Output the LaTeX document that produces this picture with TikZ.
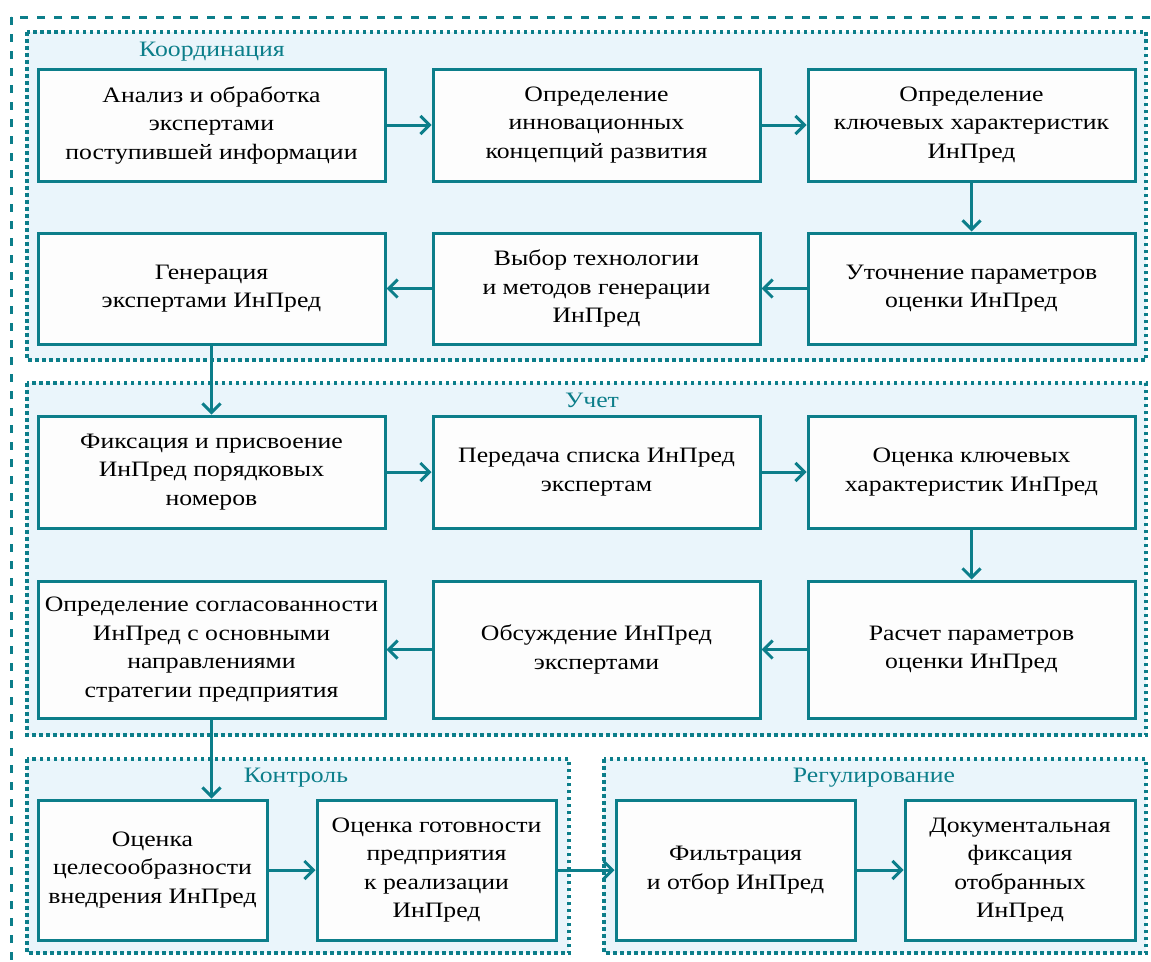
\documentclass[tikz,border=0pt]{standalone}
\usepackage{fontspec}
\setmainfont[FakeStretch=1.17]{Liberation Serif}
\usetikzlibrary{arrows.meta}
\definecolor{teal}{RGB}{12,126,138}
\definecolor{lightfill}{RGB}{234,245,251}
\definecolor{boxfill}{RGB}{253,253,253}
\begin{document}
\begin{tikzpicture}[x=1pt,y=-1pt,
  grp/.style={draw=teal,fill=lightfill,line width=3.5pt,dash pattern=on 3.5pt off 3.5pt},
  grptitle/.style={text=teal,font=\fontsize{22}{26}\selectfont,inner sep=0pt},
  stepbox/.style={draw=teal,fill=boxfill,line width=3pt,align=center,inner sep=2pt,
    font=\fontsize{22}{28.5}\selectfont},
  conn/.style={draw=teal,line width=3pt,-{Straight Barb[length=9pt,width=18pt,line width=3pt]}}
]
\clip (0,0) rectangle (1151,961);
\fill[white] (0,0) rectangle (1151,961);
% outer dashed frame
\draw[teal,line width=3pt,dash pattern=on 8pt off 9pt] (11,17) rectangle (1180,990);
% groups
\draw[grp] (27,32) rectangle (1146,360);
\draw[grp] (27,383) rectangle (1146,735);
\draw[grp] (27,759) rectangle (569,953);
\draw[grp] (604,759) rectangle (1146,953);
\node[grptitle] (t1) at (212,52) {Координация};
\node[grptitle] (t2) at (592,400) {Учет};
\node[grptitle] (t3) at (296,778) {Контроль};
\node[grptitle] (t4) at (874,778) {Регулирование};
% row 1
\node[stepbox,minimum width=347pt,minimum height=112pt] (a1) at (211.5,125) {Анализ и обработка\\экспертами\\поступившей информации};
\node[stepbox,minimum width=327pt,minimum height=112pt] (b1) at (596.5,125) {Определение\\инновационных\\концепций развития};
\node[stepbox,minimum width=327pt,minimum height=112pt] (c1) at (971.5,125) {Определение\\ключевых характеристик\\ИнПред};
% row 2
\node[stepbox,minimum width=347pt,minimum height=111pt] (a2) at (211.5,288.5) {Генерация\\экспертами ИнПред};
\node[stepbox,minimum width=327pt,minimum height=111pt] (b2) at (596.5,288.5) {Выбор технологии\\и методов генерации\\ИнПред};
\node[stepbox,minimum width=327pt,minimum height=111pt] (c2) at (971.5,288.5) {Уточнение параметров\\оценки ИнПред};
% row 3
\node[stepbox,minimum width=347pt,minimum height=112pt] (a3) at (211.5,472) {Фиксация и присвоение\\ИнПред порядковых\\номеров};
\node[stepbox,minimum width=327pt,minimum height=112pt] (b3) at (596.5,472) {Передача списка ИнПред\\экспертам};
\node[stepbox,minimum width=327pt,minimum height=112pt] (c3) at (971.5,472) {Оценка ключевых\\характеристик ИнПред};
% row 4
\node[stepbox,minimum width=347pt,minimum height=137pt] (a4) at (211.5,649.5) {Определение согласованности\\ИнПред с основными\\направлениями\\стратегии предприятия};
\node[stepbox,minimum width=327pt,minimum height=137pt] (b4) at (596.5,649.5) {Обсуждение ИнПред\\экспертами};
\node[stepbox,minimum width=327pt,minimum height=137pt] (c4) at (971.5,649.5) {Расчет параметров\\оценки ИнПред};
% row 5
\node[stepbox,minimum width=229pt,minimum height=140pt] (a5) at (152.5,870) {Оценка\\целесообразности\\внедрения ИнПред};
\node[stepbox,minimum width=239pt,minimum height=140pt] (b5) at (436.5,870) {Оценка готовности\\предприятия\\к реализации\\ИнПред};
\node[stepbox,minimum width=239pt,minimum height=140pt] (c5) at (735.5,870) {Фильтрация\\и отбор ИнПред};
\node[stepbox,minimum width=230pt,minimum height=140pt] (d5) at (1020,870) {Документальная\\фиксация\\отобранных\\ИнПред};
% connectors
\draw[conn] (a1) -- (b1);
\draw[conn] (b1) -- (c1);
\draw[conn] (c1) -- (c2);
\draw[conn] (c2) -- (b2);
\draw[conn] (b2) -- (a2);
\draw[conn] (a2) -- (a3);
\draw[conn] (a3) -- (b3);
\draw[conn] (b3) -- (c3);
\draw[conn] (c3) -- (c4);
\draw[conn] (c4) -- (b4);
\draw[conn] (b4) -- (a4);
\draw[conn] (a4.south) -- (a5.north -| a4.south);
\draw[conn] (a5) -- (b5);
\draw[conn] (b5) -- (c5);
\draw[conn] (c5) -- (d5);
\end{tikzpicture}
\end{document}
